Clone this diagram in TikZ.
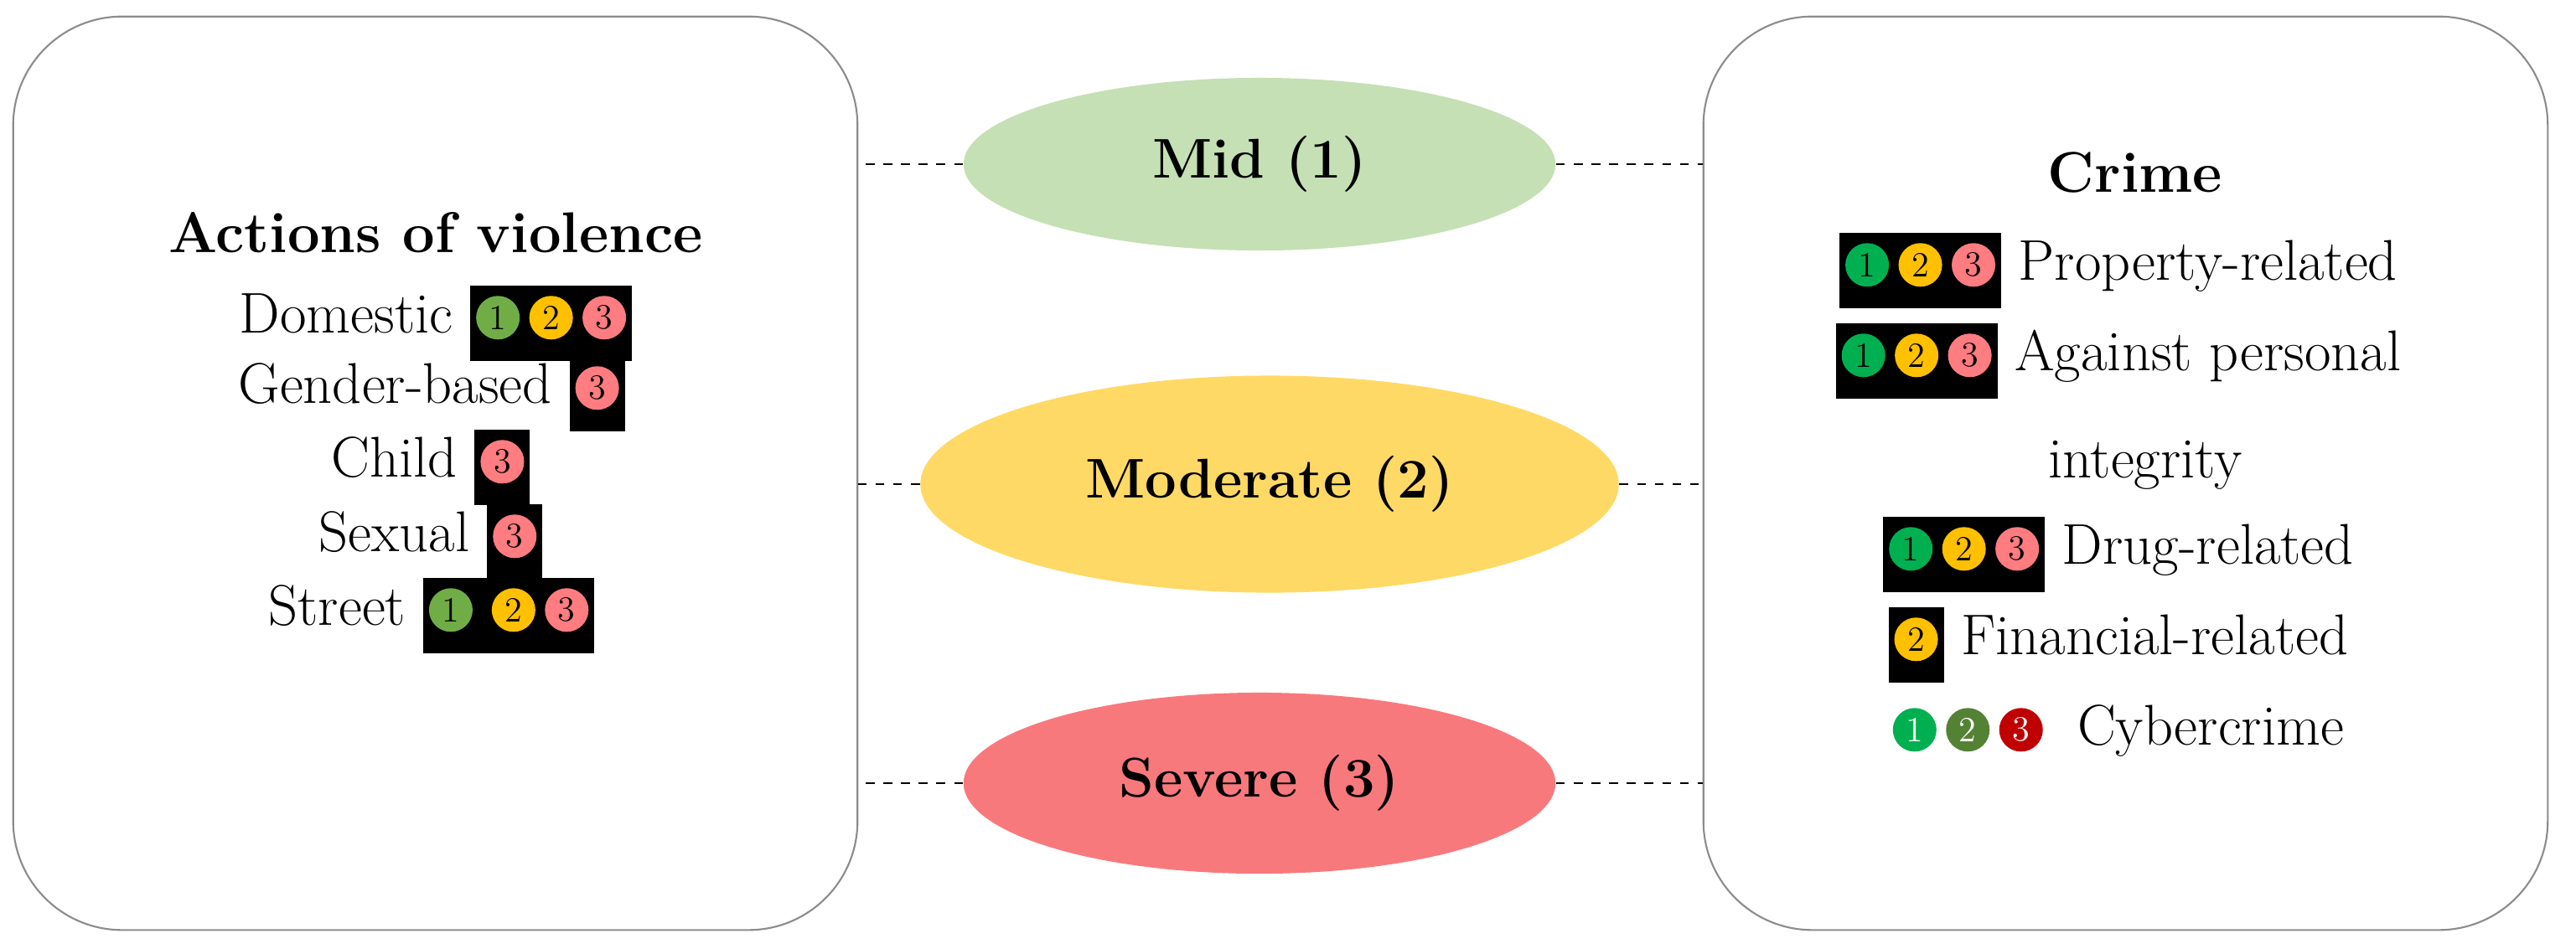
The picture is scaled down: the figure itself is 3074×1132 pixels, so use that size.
\documentclass[tikz,border=0pt]{standalone}
\usepackage{fontspec}
\usetikzlibrary{shapes.geometric}
\definecolor{gA}{HTML}{00B050}
\definecolor{gL}{HTML}{70AD47}
\definecolor{yA}{HTML}{FFC000}
\definecolor{pA}{HTML}{FF7C80}
\definecolor{oA}{HTML}{548235}
\definecolor{rA}{HTML}{C00000}
\definecolor{eM}{HTML}{C5E0B4}
\definecolor{eY}{HTML}{FFD966}
\definecolor{eS}{HTML}{F8797C}
\newcommand{\mydot}[3][black]{\tikz[baseline=-0.6ex]\node[circle,fill=#2,inner sep=0pt,minimum size=0.52cm,text=#1,font=\fontsize{12}{12}\selectfont]{#3};}
\newcommand{\bx}[1]{{\setlength{\fboxsep}{2pt}\colorbox{black}{\rule[-0.27cm]{0pt}{0.76cm}#1}}}
\begin{document}
\begin{tikzpicture}[x=0.01cm,y=-0.01cm,
  box/.style={draw=black!45,line width=0.6pt,rounded corners=1.3cm,minimum width=10.07cm,minimum height=10.9cm},
  ell/.style={ellipse,inner sep=0pt,font=\fontsize{19}{22}\selectfont\bfseries},
  txt/.style={font=\fontsize{19.5}{22}\selectfont,inner sep=0pt},
  dl/.style={dashed,line width=0.8pt}]
\useasboundingbox (0,0) rectangle (3074,1132);
\node[box] (L) at (519.5,565) {};
\node[box] (R) at (2536.5,565) {};
\node[ell,fill=eM,minimum width=7.06cm,minimum height=2.06cm] (mid) at (1503,196) {Mid (1)};
\node[ell,fill=eY,minimum width=8.33cm,minimum height=2.59cm] (mod) at (1515,578) {Moderate (2)};
\node[ell,fill=eS,minimum width=7.06cm,minimum height=2.16cm] (sev) at (1503,935) {Severe (3)};
\foreach \e in {mid,mod,sev}{
  \draw[dl] (\e.west) -- (\e.west -| L.east);
  \draw[dl] (\e.east) -- (\e.east -| R.west);}
\node[txt,font=\fontsize{19.5}{22}\selectfont\bfseries] (t0) at (520,278) {Actions of violence};
\node[txt] (t1) at (520,386) {Domestic \bx{\mydot{gL}{1}\,\mydot{yA}{2}\,\mydot{pA}{3}}};
\node[txt] (t2) at (515,470) {Gender-based \bx{\mydot{pA}{3}}};
\node[txt] (t3) at (514,558) {Child \bx{\mydot{pA}{3}}};
\node[txt] (t4) at (514,647) {Sexual \bx{\mydot{pA}{3}}};
\node[txt] (t5) at (515,735) {Street \bx{\mydot{gL}{1}\,\,\mydot{yA}{2}\,\mydot{pA}{3}}};
\node[txt,font=\fontsize{19.5}{22}\selectfont\bfseries] (r0) at (2548,206) {Crime};
\node[txt] (r1) at (2528,323) {\bx{\mydot{gA}{1}\,\mydot{yA}{2}\,\mydot{pA}{3}} Property-related};
\node[txt] (r2) at (2528,431) {\bx{\mydot{gA}{1}\,\mydot{yA}{2}\,\mydot{pA}{3}} Against personal};
\node[txt] (r3) at (2560,555) {integrity};
\node[txt] (r4) at (2528,662) {\bx{\mydot{gA}{1}\,\mydot{yA}{2}\,\mydot{pA}{3}} Drug-related};
\node[txt] (r5) at (2528,770) {\bx{\mydot{yA}{2}} Financial-related};
\node[txt] (r6) at (2528,872) {\mydot[white]{gA}{1}\,\mydot[white]{oA}{2}\,\mydot[white]{rA}{3}\ \ Cybercrime};
\end{tikzpicture}
\end{document}
